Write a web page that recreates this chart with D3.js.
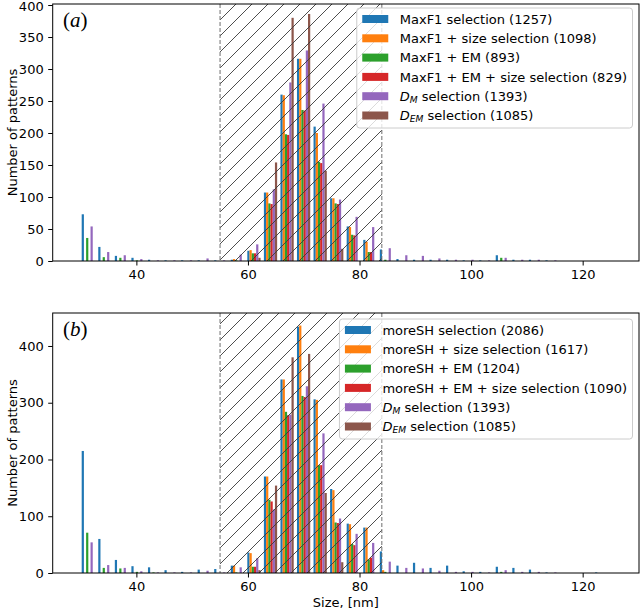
<!DOCTYPE html>
<html><head><meta charset="utf-8">
<script src="https://cdn.jsdelivr.net/npm/d3@7"></script>
<style>body{margin:0;background:#fff} svg{display:block}</style>
</head><body>
<svg id="chart" width="640" height="612"></svg>
<script>
// ---- data ----
const binLeft = [29.90, 32.87, 35.84, 38.81, 41.78, 44.74, 47.71, 50.68, 53.65, 56.62,
  59.59, 62.56, 65.53, 68.49, 71.46, 74.43, 77.40, 80.37, 83.34, 86.31,
  89.28, 92.24, 95.21, 98.18, 101.15, 104.12, 107.09, 110.06, 113.03, 115.99,
  118.96, 121.93];
const binWidth = 2.97;

const maxF1        = [73,22,8,5,2,1,1,1,1,2,16,107,260,316,210,98,54,33,18,3,2,2,2,1,1,9,2,2,1,0,0,0];
const maxF1Size    = [0,0,0,0,0,0,0,0,0,3,17,107,259,316,200,98,53,30,0,0,0,0,0,0,0,0,0,0,0,0,0,0];
const maxF1EM      = [36,6,5,1,0,0,0,0,0,1,12,90,198,236,155,90,41,14,2,0,0,0,0,0,0,5,0,0,0,0,0,0];
const maxF1EMSize  = [0,0,0,0,0,0,0,0,0,0,12,89,197,235,153,89,40,14,0,0,0,0,0,0,0,0,0,0,0,0,0,0];
const dM           = [54,14,9,3,1,1,1,4,1,10,26,112,279,329,246,96,69,53,20,9,8,4,2,2,1,5,2,2,1,0,0,0];
const dEM          = [0,0,0,0,0,0,0,0,0,0,5,154,380,386,141,19,0,0,0,0,0,0,0,0,0,0,0,0,0,0,0,0];
const moreSH       = [215,60,23,12,10,5,2,6,7,13,36,170,341,434,306,148,87,80,38,13,18,9,13,3,2,11,9,6,1,0,0,1];
const moreSHSize   = [0,0,0,0,0,0,0,0,0,13,35,170,341,436,305,146,86,80,5,0,0,0,0,0,0,0,0,0,0,0,0,0];
const moreSHEM     = [71,9,8,2,1,0,0,0,0,1,11,129,284,312,190,89,51,24,2,0,0,0,0,0,0,2,0,0,0,0,0,0];
const moreSHEMSize = [0,0,0,0,0,0,0,0,0,0,11,126,278,310,190,88,49,27,0,0,0,0,0,0,0,0,0,0,0,0,0,0];

const labelsA = ["MaxF1 selection (1257)", "MaxF1 + size selection (1098)", "MaxF1 + EM  (893)",
  "MaxF1 + EM + size selection (829)", "D_M selection (1393)", "D_EM selection (1085)"];
const labelsB = ["moreSH selection (2086)", "moreSH + size selection (1617)", "moreSH + EM  (1204)",
  "moreSH + EM + size selection (1090)", "D_M selection (1393)", "D_EM selection (1085)"];
const colors = ["#1f77b4", "#ff7f0e", "#2ca02c", "#d62728", "#9467bd", "#8c564b"];
const xTicks = [40, 60, 80, 100, 120];
const yTicksA = [0, 50, 100, 150, 200, 250, 300, 350, 400];
const yTicksB = [0, 100, 200, 300, 400];
const selRange = [55, 84];

// ---- layout ----
const svg = d3.select("#chart");
const SANS = "DejaVu Sans";
const SERIF = "Liberation Serif";
const FS = "13px";
const x = d3.scaleLinear().domain([25.0, 130.1]).range([52.7, 639]);

const defs = svg.append("defs");
defs.append("pattern").attr("id", "hatch").attr("patternUnits", "userSpaceOnUse")
  .attr("width", 16).attr("height", 16)
  .append("path").attr("d", "M0,16 L16,0 M-4,4 L4,-4 M12,20 L20,12")
  .attr("stroke", "#3a3a3a").attr("stroke-width", 0.9).attr("fill", "none");

const panels = [
  {id: "a", tag: "a", top: 4, bottom: 261, ymax: 401.6, yTicks: yTicksA,
   series: [maxF1, maxF1Size, maxF1EM, maxF1EMSize, dM, dEM], labels: labelsA, legTop: 8},
  {id: "b", tag: "b", top: 313, bottom: 573, ymax: 458.1, yTicks: yTicksB,
   series: [moreSH, moreSHSize, moreSHEM, moreSHEMSize, dM, dEM], labels: labelsB, legTop: 319}
];

const nS = 6;
const barW = 0.8 * binWidth / nS;

panels.forEach(p => {
  const y = d3.scaleLinear().domain([0, p.ymax]).range([p.bottom, p.top]);
  const g = svg.append("g");
  const x0 = x.range()[0], x1 = x.range()[1];

  defs.append("clipPath").attr("id", "clip" + p.id)
    .append("rect").attr("x", x0).attr("y", p.top).attr("width", x1 - x0).attr("height", p.bottom - p.top);

  const plot = g.append("g").attr("clip-path", `url(#clip${p.id})`);

  p.series.forEach((vals, s) => {
    plot.append("g").attr("fill", colors[s]).selectAll("rect")
      .data(vals.map((v, i) => ({v, i})).filter(d => d.v > 0))
      .join("rect")
      .attr("x", d => x(binLeft[d.i] + 0.1 * binWidth + s * barW))
      .attr("width", d => x(binLeft[d.i] + 0.1 * binWidth + (s + 1) * barW) - x(binLeft[d.i] + 0.1 * binWidth + s * barW))
      .attr("y", d => y(d.v))
      .attr("height", d => y(0) - y(d.v));
  });

  plot.append("rect")
    .attr("x", x(selRange[0])).attr("width", x(selRange[1]) - x(selRange[0]))
    .attr("y", p.top).attr("height", p.bottom - p.top)
    .attr("fill", "url(#hatch)");
  selRange.forEach(v => {
    plot.append("line").attr("x1", x(v)).attr("x2", x(v)).attr("y1", p.top).attr("y2", p.bottom)
      .attr("stroke", "#6e6e6e").attr("stroke-width", 1).attr("stroke-dasharray", "4,2");
  });

  const ax = g.append("g").attr("transform", `translate(0,${p.bottom})`)
    .call(d3.axisBottom(x).tickValues(xTicks).tickSize(4.5).tickPadding(4.5).tickSizeOuter(0));
  const ay = g.append("g").attr("transform", `translate(${x0},0)`)
    .call(d3.axisLeft(y).tickValues(p.yTicks).tickSize(4.5).tickPadding(4.5).tickSizeOuter(0));
  [ax, ay].forEach(a => {
    a.select(".domain").remove();
    a.selectAll("text").style("font-family", SANS).style("font-size", FS).attr("fill", "#000");
    a.selectAll("line").attr("stroke", "#000").attr("stroke-width", 1);
  });
  if (p.id === "a") ay.selectAll(".tick text").filter(d => d === 400).attr("dy", "0.42em");

  g.append("rect").attr("x", x0).attr("y", p.top).attr("width", x1 - x0).attr("height", p.bottom - p.top)
    .attr("fill", "none").attr("stroke", "#000").attr("stroke-width", 1);

  const t = g.append("text").attr("x", 63).attr("y", p.top + 23)
    .style("font-family", SERIF).style("font-size", "21px").attr("fill", "#000");
  t.append("tspan").text("(");
  t.append("tspan").style("font-style", "italic").text(p.tag);
  t.append("tspan").text(")");

  g.append("text").attr("transform", `translate(12,${(p.top + p.bottom) / 2}) rotate(-90)`)
    .attr("text-anchor", "middle").attr("dominant-baseline", "central")
    .style("font-family", SANS).style("font-size", FS).text("Number of patterns");

  const leg = g.append("g");
  const bg = leg.append("rect");
  const rowH = 19.3;
  const texts = [];
  p.labels.forEach((lab, i) => {
    const cy = p.legTop + 11 + i * rowH;
    leg.append("rect").attr("class", "h").attr("y", cy - 4).attr("width", 26).attr("height", 8)
      .attr("fill", colors[i]);
    const tx = leg.append("text").attr("y", cy).attr("dy", "0.36em")
      .style("font-family", SANS).style("font-size", FS).attr("fill", "#000");
    const m = lab.match(/^D_(\w+)(.*)$/);
    if (m) {
      tx.append("tspan").style("font-style", "italic").text("D");
      tx.append("tspan").style("font-style", "italic").style("font-size", "9.1px").attr("dy", "0.25em").text(m[1]);
      tx.append("tspan").attr("dy", "-0.18em").text(m[2]);
    } else {
      tx.text(lab);
    }
    texts.push(tx);
  });
  const maxLen = d3.max(texts, t => t.node().getComputedTextLength());
  const right = 632.5;
  const left = right - (43 + maxLen + 5.5);
  leg.selectAll("rect.h").attr("x", left + 5.5);
  texts.forEach(t => t.attr("x", left + 43));
  bg.attr("x", left).attr("y", p.legTop).attr("width", right - left).attr("height", 120)
    .attr("rx", 3).attr("fill", "#fff").attr("fill-opacity", 0.8)
    .attr("stroke", "#cccccc").attr("stroke-width", 1);
});

svg.append("text").attr("x", (x.range()[0] + x.range()[1]) / 2).attr("y", 607)
  .attr("text-anchor", "middle").style("font-family", SANS).style("font-size", FS).text("Size, [nm]");
</script>
</body></html>
